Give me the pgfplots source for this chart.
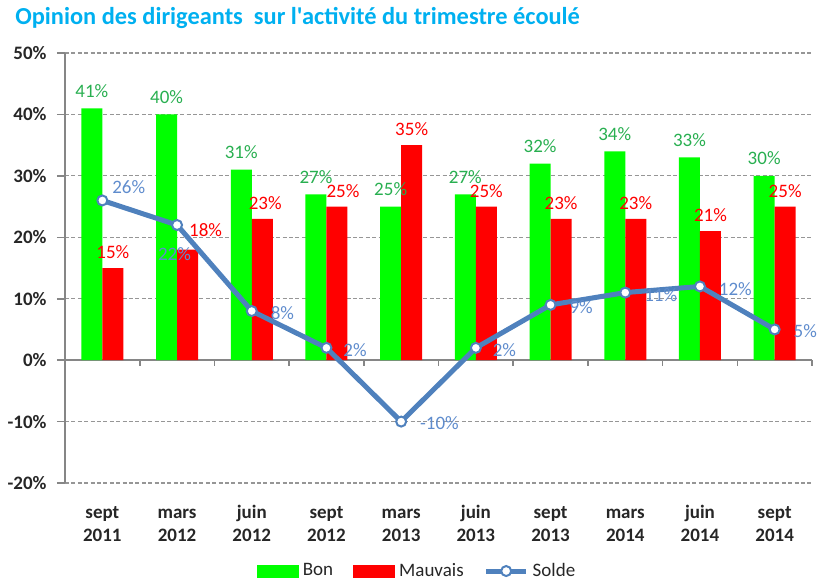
\documentclass[border=0pt]{standalone}
\usepackage{pgfplots}
\pgfplotsset{compat=1.18}
\usepackage{pgfplotstable}
\usepackage{fontspec}
\setmainfont{Carlito}[Ligatures=TeXOff]
\definecolor{bon}{RGB}{0,255,0}
\definecolor{mauvais}{RGB}{255,0,0}
\definecolor{solde}{RGB}{79,129,189}
\definecolor{bonlabel}{RGB}{40,175,80}
\definecolor{soldelabel}{RGB}{95,140,205}
\definecolor{titleblue}{RGB}{0,176,240}
\definecolor{axisgray}{RGB}{134,134,134}
\definecolor{gridgray}{RGB}{150,150,150}

\pgfplotstableread{
x y
0 41
1 40
2 31
3 27
4 25
5 27
6 32
7 34
8 33
9 30
}\bontable

\pgfplotstableread{
x y dx dy
0 15 5.25 1
1 18 14.25 3
2 23 6.75 1
3 25 8.25 1
4 35 5.25 1
5 25 5.25 1
6 23 5.25 1
7 23 5.25 1
8 21 5.25 1
9 25 5.25 1
}\mauvaistable

\pgfplotstableread{
x y dx dy
0 26 4.5 6.5
1 22 -10 -14.5
2 8 9 -1
3 2 8 -1
4 -10 9 -1
5 2 8 -1
6 9 9 -1
7 11 9 -1.5
8 12 9 -1.5
9 5 9 -1
}\soldetable

\begin{document}
\begin{tikzpicture}
\useasboundingbox (0,0) rectangle (409.5pt,290pt);
\node[anchor=west, font=\bfseries\fontsize{12.2}{14}\selectfont, text=titleblue, inner sep=0pt] at (7.5pt,281pt) {Opinion des dirigeants\ \ sur l'activité du trimestre écoulé};
\begin{axis}[
  /pgf/number format/assume math mode=true,
  at={(32.5pt,48.5pt)}, anchor=south west,
  scale only axis, width=373.5pt, height=215pt,
  xmin=-0.5, xmax=9.5, ymin=-20, ymax=50,
  ytick={-20,-10,...,50},
  yticklabels={-20\%,-10\%,0\%,10\%,20\%,30\%,40\%,50\%},
  xtick={0,...,9},
  xticklabels={{\strut sept\\2011},{\strut mars\\2012},{\strut juin\\2012},{\strut sept\\2012},{\strut mars\\2013},{\strut juin\\2013},{\strut sept\\2013},{\strut mars\\2014},{\strut juin\\2014},{\strut sept\\2014}},
  xticklabel style={align=center, font=\bfseries\fontsize{9.5}{11.5}\selectfont, text=black!85, yshift=-2pt},
  yticklabel style={font=\bfseries\fontsize{9.5}{11.5}\selectfont, text=black!85, xshift=-1.7pt},
  axis x line*=bottom, axis y line*=left,
  x axis line style={draw=none},
  y axis line style={draw=axisgray, line width=1pt},
  xtick style={draw=none},
  ytick style={draw=axisgray, line width=0.8pt},
  tick align=outside, major tick length=4pt,
  ymajorgrids,
  major grid style={draw=gridgray, line width=0.6pt, dash pattern=on 2pt off 1.2pt},
  extra y ticks={0}, extra y tick labels={},
  extra y tick style={grid=major, major grid style={solid, draw=axisgray, line width=1pt}, major tick length=0pt},
  clip=false,
  legend columns=3,
  legend style={draw=none, fill=none, at={(axis description cs:0.4726,-0.2047)}, anchor=center,
    font=\fontsize{9.5}{11.5}\selectfont, text=black!85,
    /tikz/every even column/.append style={column sep=8pt},
    legend cell align=left, inner sep=0pt},
]
\addplot[ybar, bar width=10.5pt, bar shift=-5.25pt, fill=bon, draw=none,
  point meta=y, nodes near coords={\pgfmathprintnumber{\pgfplotspointmeta}\%},
  nodes near coords style={anchor=south, xshift=-5.25pt, yshift=2pt, text=bonlabel, font=\fontsize{9.5}{11.5}\selectfont},
  legend image code/.code={\fill[bon] (0pt,-3.25pt) rectangle (21pt,3.25pt);}]
table[x=x, y=y] {\bontable};
\addlegendentry{Bon}
\addplot[ybar, bar width=10.5pt, bar shift=5.25pt, fill=mauvais, draw=none,
  point meta=\thisrow{y},
  visualization depends on={\thisrow{dx} \as \mdx},
  visualization depends on={\thisrow{dy} \as \mdy},
  nodes near coords={\pgfmathprintnumber{\pgfplotspointmeta}\%},
  nodes near coords style={anchor=south, xshift=\mdx pt, yshift=\mdy pt, text=mauvais, font=\fontsize{9.5}{11.5}\selectfont},
  legend image code/.code={\fill[mauvais] (0pt,-3.25pt) rectangle (21pt,3.25pt);}]
table[x=x, y=y] {\mauvaistable};
\addlegendentry{Mauvais}
\addplot[draw=solde, line width=2.5pt, mark=*, mark size=2.5pt,
  mark options={fill=white, draw=solde, line width=1pt},
  point meta=\thisrow{y},
  visualization depends on={\thisrow{dx} \as \ldx},
  visualization depends on={\thisrow{dy} \as \ldy},
  nodes near coords={\pgfmathprintnumber{\pgfplotspointmeta}\%},
  nodes near coords style={anchor=west, inner sep=0pt, xshift=\ldx pt, yshift=\ldy pt, text=soldelabel, font=\fontsize{9.5}{11.5}\selectfont},
  legend image code/.code={\draw[solde, line width=2.5pt] (0pt,0pt) -- (20pt,0pt); \draw[solde, fill=white, line width=1pt] (10pt,0pt) circle (2.5pt);}]
table[x=x, y=y] {\soldetable};
\addlegendentry{Solde}
\pgfplotsinvokeforeach{0.5,1.5,2.5,3.5,4.5,5.5,6.5,7.5,8.5,9.5}{
  \draw[axisgray, line width=0.8pt] (axis cs:#1,0) -- ([yshift=-3pt]axis cs:#1,0);
}
\end{axis}
\end{tikzpicture}
\end{document}
